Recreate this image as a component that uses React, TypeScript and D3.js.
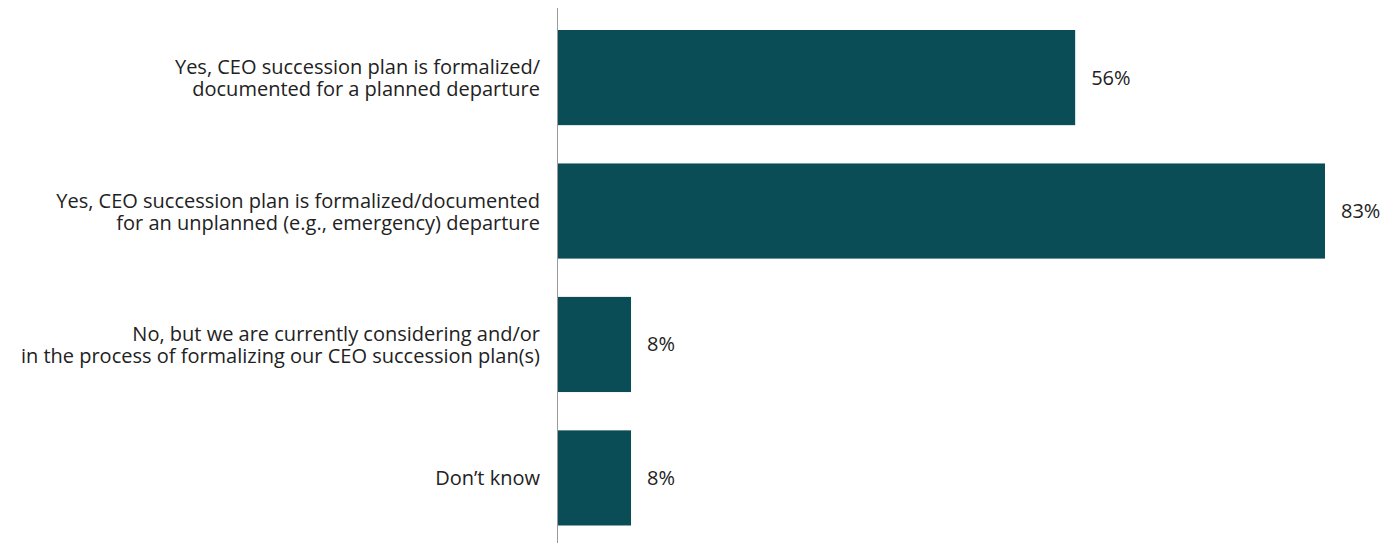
import React from "react";
import * as d3 from "d3";

const categories: string[][] = [
  ["Yes, CEO succession plan is formalized/", "documented for a planned departure"],
  ["Yes, CEO succession plan is formalized/documented", "for an unplanned (e.g., emergency) departure"],
  ["No, but we are currently considering and/or", "in the process of formalizing our CEO succession plan(s)"],
  ["Don\u2019t know"],
];
const values: number[] = [56, 83, 8, 8];
const valueLabels: string[] = ["56%", "83%", "8%", "8%"];

const W = 1385;
const H = 543;
const BAR = "#0b4d56";
const TEXT = "#222222";
const FONT = "'Open Sans', sans-serif";

export default function App() {
  const idx = categories.map((_, i) => String(i));
  const x = d3.scaleLinear().domain([0, 100]).range([557, 557 + 925.3]);
  const y = d3.scaleBand<string>().domain(idx).range([30, 525.5]).paddingInner(0.287).paddingOuter(0);
  const lh = 22;
  return (
    <svg width={W} height={H} style={{ position: "absolute", left: 0, top: 0, display: "block" }}>
      <rect x={0} y={0} width={W} height={H} fill="#ffffff" />
      {values.map((v, i) => {
        const y0 = y(String(i))!;
        const bw = y.bandwidth();
        const cy = y0 + bw / 2;
        const lines = categories[i];
        const start = cy - ((lines.length - 1) * lh) / 2 + 7.5;
        return (
          <g key={i}>
            <rect x={x(0)} y={y0} width={x(v) - x(0)} height={bw} fill={BAR} />
            <text x={x(v) + 16} y={cy + 7} fontFamily={FONT} fontSize={20} fill={TEXT}>
              {valueLabels[i]}
            </text>
            <text textAnchor="end" fontFamily={FONT} fontSize={20} fill={TEXT}>
              {lines.map((l, j) => (
                <tspan key={j} x={540} y={start + j * lh}>
                  {l}
                </tspan>
              ))}
            </text>
          </g>
        );
      })}
      <line x1={557.5} x2={557.5} y1={8} y2={H} stroke="#9a9a9a" strokeWidth={1} />
    </svg>
  );
}
